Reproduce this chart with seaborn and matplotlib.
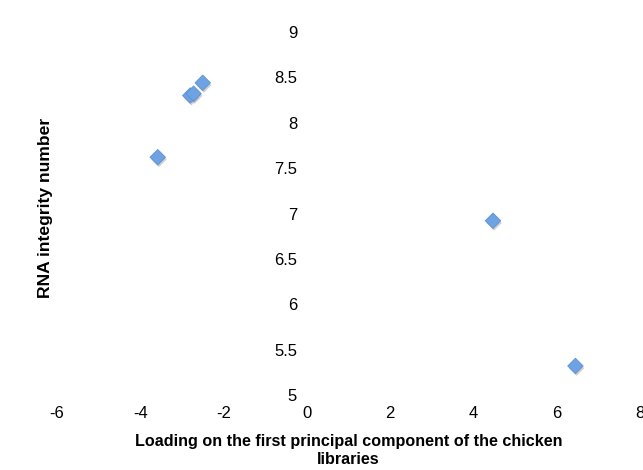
import matplotlib
matplotlib.use("Agg")
import matplotlib.pyplot as plt
import matplotlib.patheffects as pe
import seaborn as sns
import pandas as pd

# Loading on PC1 vs. RNA integrity number for each chicken library
pc1_loading = [-2.5, -2.8, -2.72, -3.58, 4.47, 6.45]
rin = [8.44, 8.3, 8.32, 7.62, 6.92, 5.32]

x_ticks = [-6, -4, -2, 0, 2, 4, 6, 8]
y_ticks = [5, 5.5, 6, 6.5, 7, 7.5, 8, 8.5, 9]
y_tick_labels = ["5", "5.5", "6", "6.5", "7", "7.5", "8", "8.5", "9"]

df = pd.DataFrame({"pc1": pc1_loading, "rin": rin})

sns.set_style("white")
plt.rcParams["font.family"] = ["Liberation Sans", "DejaVu Sans"]
plt.rcParams["text.color"] = "black"
plt.rcParams["axes.labelcolor"] = "black"

fig = plt.figure(figsize=(6.43, 4.70), dpi=100)
ax = fig.add_axes([57 / 643, 75 / 470, 583 / 643, 363 / 470])

sns.scatterplot(
    data=df, x="pc1", y="rin", ax=ax,
    marker="D", s=62, color="#6EA2E3", edgecolor="#5C92D6", linewidth=0.6,
    legend=False, zorder=3,
)
for coll in ax.collections:
    coll.set_path_effects([
        pe.SimplePatchShadow(offset=(0.8, -1.6), shadow_rgbFace="#7a7a7a", alpha=0.35),
        pe.Normal(),
    ])

ax.set_xlim(-6, 8)
ax.set_ylim(5, 9)
ax.set_xticks(x_ticks)
ax.set_xticklabels([str(t) for t in x_ticks])
ax.set_yticks(y_ticks)
ax.set_yticklabels(y_tick_labels)

# vertical axis crosses at x = 0, axis lines hidden
ax.spines["left"].set_position(("data", 0))
for side in ["left", "right", "top", "bottom"]:
    ax.spines[side].set_color("none")
ax.tick_params(axis="both", length=0, labelsize=12, colors="black")
ax.tick_params(axis="y", pad=7)
ax.tick_params(axis="x", pad=8)

ax.set_xlabel("Loading on the first principal component of the chicken\nlibraries",
              fontsize=11.6, fontweight="bold", labelpad=9, linespacing=1.25,
              color="black")
ax.set_ylabel("")
fig.text(46 / 643, 1 - 208 / 470, "RNA integrity number", rotation=90,
         fontsize=12.6, fontweight="bold", ha="center", va="center", color="black")

fig.savefig("out.png", dpi=100)
